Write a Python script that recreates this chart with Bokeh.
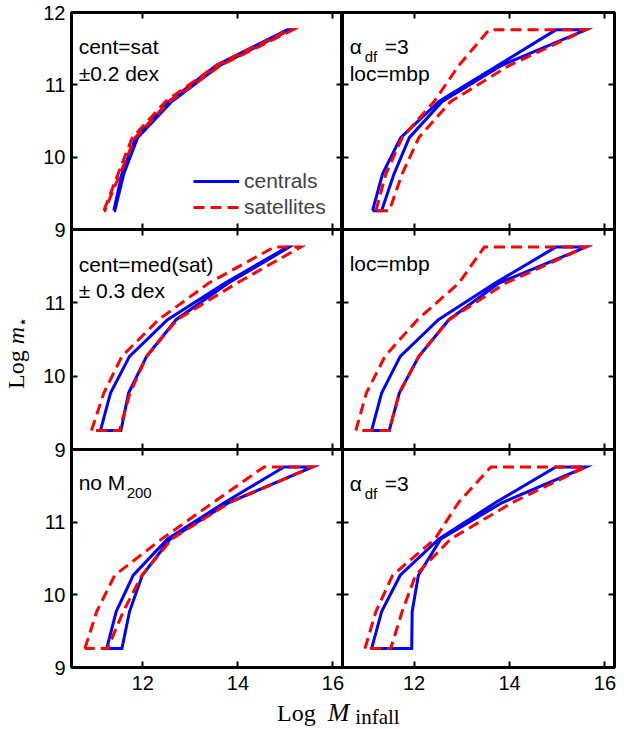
from bokeh.plotting import figure
from bokeh.models import Range1d, FixedTicker, LinearAxis, Label, Legend, LegendItem, Div
from bokeh.layouts import row, column
from bokeh.embed import file_html
from bokeh.resources import INLINE

# ---------------- data ----------------
LOG_MSTAR = [9.26, 9.77, 10.27, 10.77, 11.27, 11.76]

# panel 1: cent=sat +-0.2 dex
P1_CEN_LO = [11.39, 11.56, 11.85, 12.55, 13.55, 15.04]
P1_CEN_HI = [11.41, 11.60, 11.89, 12.61, 13.62, 15.10]
P1_SAT_LO = [11.18, 11.48, 11.78, 12.48, 13.55, 15.08]
P1_SAT_HI = [11.20, 11.52, 11.84, 12.56, 13.64, 15.16]
# panel 2: alpha_df=3, loc=mbp
P2_CEN_LO = [11.13, 11.34, 11.72, 12.52, 13.76, 14.97]
P2_CEN_HI = [11.32, 11.58, 11.90, 12.59, 13.84, 15.60]
P2_SAT_LO = [11.20, 11.41, 11.75, 12.42, 12.94, 13.57]
P2_SAT_HI = [11.48, 11.75, 12.10, 12.77, 14.00, 15.60]
# panel 3: cent=med(sat) +-0.3 dex
P3_CEN_LO = [11.11, 11.32, 11.72, 12.52, 13.73, 15.04]
P3_CEN_HI = [11.54, 11.70, 12.08, 12.70, 13.80, 15.08]
P3_SAT_LO = [10.92, 11.18, 11.56, 12.33, 13.39, 14.76]
P3_SAT_HI = [11.51, 11.73, 12.08, 12.72, 13.98, 15.32]
# panel 4: loc=mbp
P4_CEN_LO = [11.11, 11.32, 11.71, 12.51, 13.70, 14.97]
P4_CEN_HI = [11.48, 11.69, 12.10, 12.73, 13.78, 15.60]
P4_SAT_LO = [10.78, 11.00, 11.39, 12.07, 12.94, 13.47]
P4_SAT_HI = [11.48, 11.69, 12.10, 12.73, 13.92, 15.60]
# panel 5: no M200
P5_CEN_LO = [11.24, 11.44, 11.80, 12.52, 13.72, 14.97]
P5_CEN_HI = [11.56, 11.72, 11.99, 12.58, 13.81, 15.57]
P5_SAT_LO = [10.78, 11.03, 11.41, 12.40, 13.48, 14.55]
P5_SAT_HI = [11.26, 11.59, 11.98, 12.61, 13.83, 15.57]
# panel 6: alpha_df=3
P6_CEN_LO = [11.11, 11.32, 11.71, 12.52, 13.71, 14.97]
P6_CEN_HI = [11.95, 11.96, 12.09, 12.56, 13.85, 15.60]
P6_SAT_LO = [10.97, 11.20, 11.55, 12.44, 12.93, 13.61]
P6_SAT_HI = [11.51, 11.75, 12.03, 12.77, 14.06, 15.60]

X_TICKS = [12, 14, 16]
Y_TICKS = [9, 10, 11, 12]
X_RANGE = (10.5, 16.2)
Y_RANGE = (9.0, 12.0)

BLUE = "#0000ff"
RED = "#ff0000"
SANS = "Liberation Sans"
SERIF = "Liberation Serif"
TICK_SIZE = "20px"
TEXT_SIZE = "21px"

YTITLE_W = 30
FRAME_W = 271
FRAME_H = [217, 220, 218]


def closed(lo, hi):
    xs = list(lo) + list(hi)[::-1] + [lo[0]]
    ys = list(LOG_MSTAR) + list(LOG_MSTAR)[::-1] + [LOG_MSTAR[0]]
    return xs, ys


def style_axis(ax, ticks, show, overrides=None):
    ax.ticker = FixedTicker(ticks=ticks)
    ax.axis_line_color = None
    ax.major_tick_in = 6
    ax.major_tick_out = 0
    ax.major_tick_line_color = "black"
    ax.major_tick_line_width = 2
    ax.minor_tick_line_color = None
    if show:
        ax.major_label_text_font = SANS
        ax.major_label_text_font_size = TICK_SIZE
        ax.major_label_text_color = "black"
        ax.major_label_standoff = 6
        if overrides:
            ax.major_label_overrides = overrides
    else:
        ax.major_label_overrides = {t: "" for t in ticks}
        ax.major_label_text_font_size = "0px"
        ax.major_label_standoff = 0


def make_panel(r, c, cen_lo, cen_hi, sat_lo, sat_hi):
    if c == 0:
        b_left = 71 - YTITLE_W
        b_right = 5 if r == 2 else 0
        width = b_left + FRAME_W + b_right
    else:
        b_left, b_right = 0, 10
        width = 282
    b_top = 12 if r == 0 else 0
    b_bottom = [10, 10, 32][r]
    height = b_top + FRAME_H[r] + b_bottom
    p = figure(width=width, height=height,
               x_range=Range1d(*X_RANGE), y_range=Range1d(*Y_RANGE),
               output_backend="svg", toolbar_location=None,
               x_axis_location=None, y_axis_location=None,
               min_border_left=b_left, min_border_right=b_right,
               min_border_top=b_top, min_border_bottom=b_bottom)
    p.grid.visible = False
    p.outline_line_color = "black"
    p.outline_line_width = 3
    if r > 0:
        p.background_fill_alpha = 0
        p.border_fill_alpha = 0

    left = LinearAxis()
    style_axis(left, Y_TICKS, c == 0, None if r == 0 else {12: ""})
    p.add_layout(left, "left")
    right = LinearAxis()
    style_axis(right, Y_TICKS, False)
    p.add_layout(right, "right")
    bottom = LinearAxis()
    style_axis(bottom, X_TICKS, r == 2)
    if r == 2:
        bottom.major_label_standoff = 8
    p.add_layout(bottom, "below")
    top = LinearAxis()
    style_axis(top, X_TICKS, False)
    p.add_layout(top, "above")

    xs, ys = closed(cen_lo, cen_hi)
    rc = p.line(xs, ys, line_color=BLUE, line_width=3, line_join="miter")
    xs, ys = closed(sat_lo, sat_hi)
    rs = p.line(xs, ys, line_color=RED, line_width=3, line_dash="11 6", line_join="miter")
    return p, rc, rs


def note(p, text, x, y, size=TEXT_SIZE, dx=0, dy=0):
    p.add_layout(Label(x=x, y=y, x_offset=dx, y_offset=dy, text=text,
                       text_font=SANS, text_font_size=size, text_color="black",
                       text_baseline="alphabetic", text_align="left"))


TL, tl_c, tl_s = make_panel(0, 0, P1_CEN_LO, P1_CEN_HI, P1_SAT_LO, P1_SAT_HI)
TR, _, _ = make_panel(0, 1, P2_CEN_LO, P2_CEN_HI, P2_SAT_LO, P2_SAT_HI)
ML, _, _ = make_panel(1, 0, P3_CEN_LO, P3_CEN_HI, P3_SAT_LO, P3_SAT_HI)
MR, _, _ = make_panel(1, 1, P4_CEN_LO, P4_CEN_HI, P4_SAT_LO, P4_SAT_HI)
BL, _, _ = make_panel(2, 0, P5_CEN_LO, P5_CEN_HI, P5_SAT_LO, P5_SAT_HI)
BR, _, _ = make_panel(2, 1, P6_CEN_LO, P6_CEN_HI, P6_SAT_LO, P6_SAT_HI)

legend = Legend(items=[LegendItem(label="centrals", renderers=[tl_c]),
                       LegendItem(label="satellites", renderers=[tl_s])],
                location=(122, 9), orientation="vertical",
                label_text_font=SANS, label_text_font_size=TEXT_SIZE,
                glyph_width=46, glyph_height=26, label_height=26,
                label_standoff=5, spacing=0, padding=0, margin=0,
                border_line_color=None, background_fill_alpha=0)
TL.add_layout(legend, "center")

XL = 10.65
note(TL, "cent=sat", XL, 11.53)
note(TL, "\u00b10.2 dex", XL, 11.16)
note(TR, "\u03b1", XL, 11.53)
note(TR, "df", XL, 11.53, size="15px", dx=15, dy=-10)
note(TR, "=3", XL, 11.53, dx=35)
note(TR, "loc=mbp", XL, 11.16)
note(ML, "cent=med(sat)", XL, 11.52)
note(ML, "\u00b1 0.3 dex", XL, 11.17)
note(MR, "loc=mbp", XL, 11.54)
note(BL, "no M", XL, 11.55)
note(BL, "200", XL, 11.55, size="15px", dx=48, dy=-11)
note(BR, "\u03b1", XL, 11.53)
note(BR, "df", XL, 11.53, size="15px", dx=15, dy=-10)
note(BR, "=3", XL, 11.53, dx=35)

TITLE_CSS = ("position:absolute; white-space:nowrap; color:black; "
             "font-family:'Liberation Serif'; font-size:24px; line-height:24px;")

y_title = Div(
    width=YTITLE_W, height=699, margin=0,
    text=('<div style="position:relative; width:30px; height:699px;">'
          '<div style="' + TITLE_CSS + ' left:4px; top:389px; '
          'transform:rotate(-90deg); transform-origin:0 0;">'
          'Log <i>m</i><span style="font-size:16px; position:relative; top:4px;">\u22c6</span>'
          '</div></div>'))

x_title = Div(
    width=624, height=30, margin=0,
    text=('<div style="position:relative; width:624px; height:30px;">'
          '<div style="' + TITLE_CSS + ' left:277px; top:2px;">'
          'Log <i style="margin-left:6px; font-size:26px;">M</i>'
          '<span style="font-size:21px; position:relative; top:3px; margin-left:6px;">infall</span>'
          '</div></div>'))

BR.margin = (0, 0, 0, -5)
grid = column(row(TL, TR),
              row(ML, MR, margin=(-10, 0, 0, 0)),
              row(BL, BR, margin=(-10, 0, 0, 0)))
page = column(row(y_title, grid), x_title)

open("out.html", "w").write(file_html(page, INLINE))
